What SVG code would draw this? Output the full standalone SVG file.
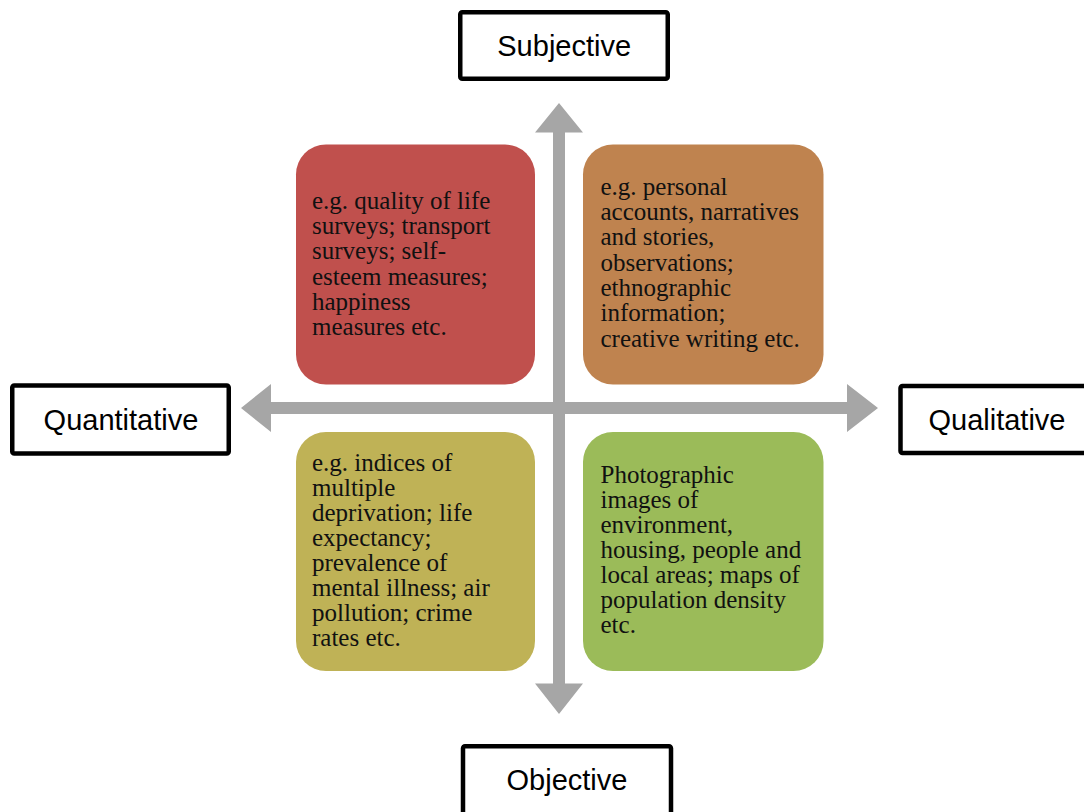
<svg xmlns="http://www.w3.org/2000/svg" width="1084" height="812" viewBox="0 0 1084 812">
  <style>
    .axis-label { fill: #ffffff; stroke: #000000; stroke-width: 4.5; }
    .axis-text { font-family: "Liberation Sans", Arial, sans-serif; font-size: 29px; fill: #000000; text-anchor: middle; }
    .quad-text { font-family: "Liberation Serif", "Times New Roman", serif; font-size: 25px; fill: #111111; }
    .arrow { fill: #A6A6A6; }
  </style>

  <rect width="1084" height="812" fill="#ffffff"/>

  <!-- two-headed axis arrows -->
  <g id="connectors">
    <polygon class="arrow" points="559,103 583,132.5 565,132.5 565,683.5 583,683.5 559,714 535,683.5 553,683.5 553,132.5 535,132.5"/>
    <polygon class="arrow" points="241,408 271,384 271,402 847,402 847,384 878,408 847,432 847,414 271,414 271,432"/>
  </g>

  <!-- quadrant boxes -->
  <g id="quadrant-subjective-quantitative">
    <rect x="296" y="144.5" width="239" height="240" rx="30" fill="#C0504D"/>
    <text class="quad-text">
      <tspan x="312" y="209">e.g. quality of life</tspan>
      <tspan x="312" y="234">surveys; transport</tspan>
      <tspan x="312" y="259">surveys; self-</tspan>
      <tspan x="312" y="284.5">esteem measures;</tspan>
      <tspan x="312" y="309.5">happiness</tspan>
      <tspan x="312" y="334.5">measures etc.</tspan>
    </text>
  </g>

  <g id="quadrant-subjective-qualitative">
    <rect x="583" y="144.5" width="240.5" height="240" rx="30" fill="#BF834F"/>
    <text class="quad-text">
      <tspan x="600.5" y="194.5">e.g. personal</tspan>
      <tspan x="600.5" y="219.8">accounts, narratives</tspan>
      <tspan x="600.5" y="245.1">and stories,</tspan>
      <tspan x="600.5" y="270.5">observations;</tspan>
      <tspan x="600.5" y="295.9">ethnographic</tspan>
      <tspan x="600.5" y="321.2">information;</tspan>
      <tspan x="600.5" y="346.6">creative writing etc.</tspan>
    </text>
  </g>

  <g id="quadrant-objective-quantitative">
    <rect x="296" y="432" width="239" height="239" rx="30" fill="#BFB256"/>
    <text class="quad-text">
      <tspan x="312" y="470.7">e.g. indices of</tspan>
      <tspan x="312" y="495.8">multiple</tspan>
      <tspan x="312" y="520.9">deprivation; life</tspan>
      <tspan x="312" y="546">expectancy;</tspan>
      <tspan x="312" y="571.1">prevalence of</tspan>
      <tspan x="312" y="596.2">mental illness; air</tspan>
      <tspan x="312" y="621.3">pollution; crime</tspan>
      <tspan x="312" y="646.4">rates etc.</tspan>
    </text>
  </g>

  <g id="quadrant-objective-qualitative">
    <rect x="583" y="432" width="240.5" height="239" rx="30" fill="#9BBB59"/>
    <text class="quad-text">
      <tspan x="600.5" y="482.7">Photographic</tspan>
      <tspan x="600.5" y="507.8">images of</tspan>
      <tspan x="600.5" y="532.8">environment,</tspan>
      <tspan x="600.5" y="557.9">housing, people and</tspan>
      <tspan x="600.5" y="582.9">local areas; maps of</tspan>
      <tspan x="600.5" y="608">population density</tspan>
      <tspan x="600.5" y="633">etc.</tspan>
    </text>
  </g>

  <!-- axis end labels -->
  <g id="label-subjective">
    <rect class="axis-label" x="460.25" y="12.25" width="207.5" height="66.5" rx="2"/>
    <text class="axis-text" x="564.2" y="56">Subjective</text>
  </g>

  <g id="label-quantitative">
    <rect class="axis-label" x="12.25" y="385.5" width="216.5" height="68" rx="2"/>
    <text class="axis-text" x="121" y="430">Quantitative</text>
  </g>

  <g id="label-qualitative">
    <rect class="axis-label" x="900.5" y="386" width="196" height="67" rx="2"/>
    <text class="axis-text" x="997" y="430">Qualitative</text>
  </g>

  <g id="label-objective">
    <rect class="axis-label" x="463" y="746.25" width="208" height="70" rx="2"/>
    <text class="axis-text" x="567" y="790">Objective</text>
  </g>
</svg>
